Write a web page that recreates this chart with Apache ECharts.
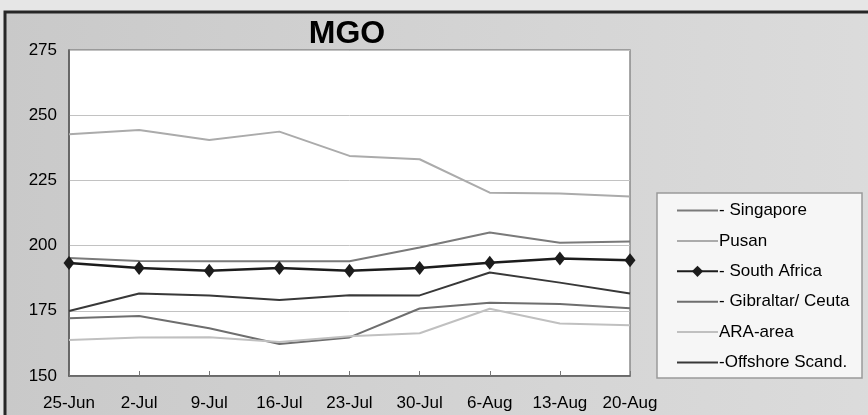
<!DOCTYPE html>
<html>
<head>
<meta charset="utf-8">
<script src="https://cdn.jsdelivr.net/npm/echarts@6/dist/echarts.min.js"></script>
<style>
html,body{margin:0;padding:0;background:#e6e6e6;}
#chart{width:868px;height:415px;}
</style>
</head>
<body>
<div id="chart"></div>
<script>
var categories = ['25-Jun','2-Jul','9-Jul','16-Jul','23-Jul','30-Jul','6-Aug','13-Aug','20-Aug'];
var singapore   = [195.2, 194.1, 194.0, 194.0, 194.0, 199.3, 205.0, 201.1, 201.6];
var pusan       = [242.7, 244.3, 240.5, 243.7, 234.4, 233.1, 220.3, 220.0, 218.8];
var southAfrica = [193.3, 191.4, 190.4, 191.4, 190.4, 191.4, 193.4, 195.1, 194.4];
var gibraltar   = [172.1, 173.0, 168.3, 162.3, 164.8, 175.9, 178.1, 177.6, 176.0];
var araArea     = [163.8, 164.8, 164.9, 163.0, 165.2, 166.4, 175.8, 170.1, 169.5];
var offshore    = [174.9, 181.6, 180.9, 179.1, 181.0, 180.9, 189.7, 185.8, 181.6];
var seriesNames = ['Singapore','Pusan','South Africa','Gibraltar/ Ceuta','ARA-area','Offshore Scand.'];
var legendLabels = ['- Singapore','Pusan','- South Africa','- Gibraltar/ Ceuta','ARA-area','-Offshore Scand.'];
var yTicks = {min:150, max:275, step:25};

var chart = echarts.init(document.getElementById('chart'), null, {renderer:'canvas'});
var font = '"Liberation Sans", Arial, sans-serif';
function lineSeries(name, data, color, width, extra){
  var s = {
    name: name, type: 'line', data: data,
    symbol: 'none', showSymbol: false,
    lineStyle: {color: color, width: width},
    itemStyle: {color: color},
    animation: false, z: 3
  };
  for (var k in extra) s[k] = extra[k];
  return s;
}
var legendData = seriesNames.map(function(n){
  if (n === 'South Africa') return {name: n};
  return {name: n, itemStyle: {opacity: 0, borderWidth: 0}};
});
var option = {
  animation: false,
  backgroundColor: '#e6e6e6',
  title: {
    text: 'MGO', left: 342, top: 13, textAlign: 'center',
    textStyle: {fontFamily: font, fontWeight: 'bold', fontSize: 32, color: '#000'}
  },
  graphic: [
    {type:'rect', z:-10, shape:{x:5, y:12, width:900, height:500},
     style:{fill:{type:'linear',x:0,y:0,x2:1,y2:0,colorStops:[{offset:0,color:'#c9c9c9'},{offset:0.5,color:'#d3d3d3'},{offset:1,color:'#dcdcdc'}]},
            stroke:'#262626', lineWidth:3}},
    {type:'rect', z:-5, shape:{x:657, y:193, width:205, height:185},
     style:{fill:'#f6f6f6', stroke:'#9a9a9a', lineWidth:1.5}}
  ],
  grid: {
    left: 69, top: 50, right: 238, bottom: 39,
    show: true, backgroundColor: '#ffffff', borderColor: '#8a8a8a', borderWidth: 1.5
  },
  legend: {
    orient: 'vertical', left: 671, top: 197,
    itemWidth: 41, itemHeight: 14, itemGap: 13.4,
    data: legendData,
    formatter: function(n){ return legendLabels[seriesNames.indexOf(n)]; },
    textStyle: {fontFamily: font, fontSize: 17, color: '#000', padding: [0,0,0,-4]}
  },
  xAxis: {
    type: 'category', data: categories, boundaryGap: false,
    axisLine: {lineStyle: {color: '#555', width: 1.5}},
    axisTick: {show: true, inside: true, length: 5, lineStyle: {color: '#777'}},
    axisLabel: {fontFamily: font, fontSize: 17, color: '#000', margin: 19, interval: 0},
    splitLine: {show: false}
  },
  yAxis: {
    type: 'value', min: yTicks.min, max: yTicks.max, interval: yTicks.step,
    axisLine: {show: true, lineStyle: {color: '#555', width: 1.5}},
    axisTick: {show: false},
    axisLabel: {fontFamily: font, fontSize: 17, color: '#000', margin: 12},
    splitLine: {lineStyle: {color: '#c2c2c2', width: 1}}
  },
  series: [
    lineSeries(seriesNames[0], singapore, '#7a7a7a', 2),
    lineSeries(seriesNames[1], pusan, '#ababab', 2),
    lineSeries(seriesNames[2], southAfrica, '#1c1c1c', 2.5, {symbol:'diamond', showSymbol:true, symbolSize:[11,14], z:5}),
    lineSeries(seriesNames[3], gibraltar, '#6e6e6e', 2),
    lineSeries(seriesNames[4], araArea, '#c0c0c0', 2),
    lineSeries(seriesNames[5], offshore, '#383838', 2)
  ]
};
chart.setOption(option);
</script>
</body>
</html>
